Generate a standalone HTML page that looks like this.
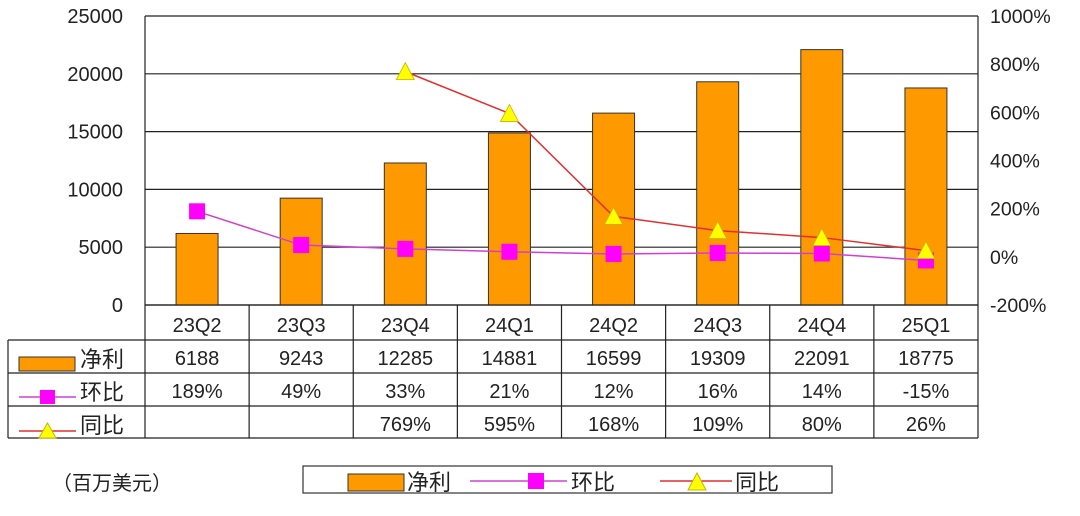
<!DOCTYPE html>
<html><head><meta charset="utf-8">
<style>
body{margin:0;background:#fff;width:1080px;height:511px;overflow:hidden}
svg text{font-family:"Liberation Sans","Noto Sans CJK SC",sans-serif;fill:#222}
</style></head><body>
<svg id="c" width="1080" height="511" xmlns="http://www.w3.org/2000/svg"></svg>
<script>
const categories=["23Q2","23Q3","23Q4","24Q1","24Q2","24Q3","24Q4","25Q1"];
const profit=[6188,9243,12285,14881,16599,19309,22091,18775];
const qoq=[189,49,33,21,12,16,14,-15];
const yoy=[null,null,769,595,168,109,80,26];
const leftTicks=[0,5000,10000,15000,20000,25000];
const rightTicks=[-200,0,200,400,600,800,1000];
const svg=document.getElementById('c');
const NS="http://www.w3.org/2000/svg";
const L=145,R=978,T=16,B=305;
const yL=v=>B-(v/25000)*(B-T);
const yR=v=>B-((v+200)/1200)*(B-T);
const cw=(R-L)/categories.length;
const xC=i=>L+cw*(i+0.5);
function el(tag,attrs,name,text){const e=document.createElementNS(NS,tag);for(const k in attrs)e.setAttribute(k,attrs[k]);


if(text!==undefined)e.textContent=text;svg.appendChild(e);return e;}
leftTicks.forEach(v=>{el('line',{x1:L,x2:R,y1:yL(v),y2:yL(v),stroke:'#222','stroke-width':1.2},'gridline');
el('text',{x:123,y:yL(v)+7,'text-anchor':'end','font-size':20},'left-tick-label',String(v));});
rightTicks.forEach(v=>{el('text',{x:990,y:yR(v)+7,'font-size':19.5},'right-tick-label',v+'%');});
el('line',{x1:L,x2:L,y1:T,y2:B,stroke:'#222','stroke-width':1.2},'left-axis');
el('line',{x1:R,x2:R,y1:T,y2:B,stroke:'#222','stroke-width':1.2},'right-axis');
profit.forEach((v,i)=>{el('rect',{x:xC(i)-21,y:yL(v),width:42,height:B-yL(v),fill:'#ff9900',stroke:'#333','stroke-width':1},'bar-'+categories[i]);});
let pts=qoq.map((v,i)=>xC(i)+','+yR(v)).join(' ');
el('polyline',{points:pts,fill:'none',stroke:'#d040d0','stroke-width':1.5},'qoq-line');
qoq.forEach((v,i)=>el('rect',{x:xC(i)-8,y:yR(v)-8,width:16,height:16,fill:'#ff00ff'},'qoq-marker'));
let yp=[];yoy.forEach((v,i)=>{if(v!==null)yp.push(xC(i)+','+yR(v));});
el('polyline',{points:yp.join(' '),fill:'none',stroke:'#e03030','stroke-width':1.5},'yoy-line');
yoy.forEach((v,i)=>{if(v===null)return;const x=xC(i),y=yR(v);
el('polygon',{points:`${x-9},${y+8} ${x+9},${y+8} ${x},${y-9}`,fill:'#ffff00',stroke:'#c8b400','stroke-width':0.8},'yoy-marker');});
const rows=[305,340,373,406,438];
el('line',{x1:L,x2:R,y1:rows[0],y2:rows[0],stroke:'#222','stroke-width':1.2},'table-line');
for(let r=1;r<rows.length;r++)el('line',{x1:8,x2:R,y1:rows[r],y2:rows[r],stroke:'#222','stroke-width':1.2},'table-line');
el('line',{x1:8,x2:8,y1:340,y2:438,stroke:'#222','stroke-width':1.2},'table-line');
for(let i=0;i<=categories.length;i++)el('line',{x1:L+cw*i,x2:L+cw*i,y1:305,y2:438,stroke:'#222','stroke-width':1.2},'table-line');
categories.forEach((c,i)=>{
el('text',{x:xC(i),y:332,'text-anchor':'middle','font-size':20},'category-label',c);
el('text',{x:xC(i),y:365,'text-anchor':'middle','font-size':20},'profit-value',String(profit[i]));
el('text',{x:xC(i),y:398,'text-anchor':'middle','font-size':20},'qoq-value',qoq[i]+'%');
if(yoy[i]!==null)el('text',{x:xC(i),y:431,'text-anchor':'middle','font-size':20},'yoy-value',yoy[i]+'%');
});
el('rect',{x:19,y:357,width:56,height:14,fill:'#ff9900',stroke:'#333'},'row-key-profit');
el('text',{x:80,y:367,'font-size':22},'row-label-profit','净利');
el('line',{x1:19,x2:76,y1:397,y2:397,stroke:'#d040d0','stroke-width':1.5},'row-key-qoq');
el('rect',{x:40,y:390,width:15,height:14,fill:'#ff00ff'},'row-key-qoq-marker');
el('text',{x:80,y:400,'font-size':22},'row-label-qoq','环比');
el('line',{x1:19,x2:76,y1:431,y2:431,stroke:'#e03030','stroke-width':1.5},'row-key-yoy');
el('polygon',{points:'39,438 56,438 47.5,423',fill:'#ffff00',stroke:'#c8b400'},'row-key-yoy-marker');
el('text',{x:80,y:433,'font-size':22},'row-label-yoy','同比');
el('text',{x:52,y:490,'font-size':20},'unit-label','（百万美元）');
el('rect',{x:303,y:466,width:529,height:27,fill:'#fff',stroke:'#333','stroke-width':1.2},'legend');
el('rect',{x:348,y:474,width:56,height:17,fill:'#ff9900',stroke:'#333'},'legend-key-profit');
el('text',{x:407,y:490,'font-size':22},'legend-label-profit','净利');
el('line',{x1:470,x2:567,y1:481,y2:481,stroke:'#d040d0','stroke-width':1.5},'legend-key-qoq');
el('rect',{x:528,y:473,width:16,height:16,fill:'#ff00ff'},'legend-key-qoq-marker');
el('text',{x:571,y:490,'font-size':22},'legend-label-qoq','环比');
el('line',{x1:660,x2:732,y1:481,y2:481,stroke:'#e03030','stroke-width':1.5},'legend-key-yoy');
el('polygon',{points:'688,490 706,490 697,473',fill:'#ffff00',stroke:'#c8b400'},'legend-key-yoy-marker');
el('text',{x:735,y:490,'font-size':22},'legend-label-yoy','同比');
</script>
</body></html>
